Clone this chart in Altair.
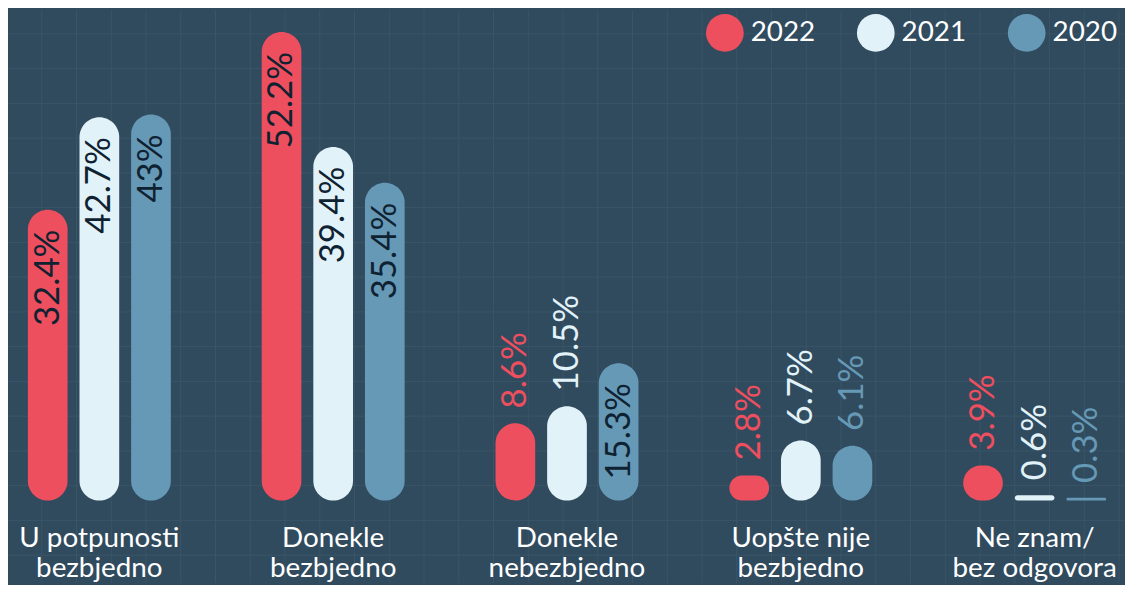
import altair as alt
import pandas as pd

categories = ["U potpunosti\nbezbjedno", "Donekle\nbezbjedno", "Donekle\nnebezbjedno",
              "Uopšte nije\nbezbjedno", "Ne znam/\nbez odgovora"]
years = ["2022", "2021", "2020"]
v2022 = [32.4, 52.2, 8.6, 2.8, 3.9]
v2021 = [42.7, 39.4, 10.5, 6.7, 0.6]
v2020 = [43, 35.4, 15.3, 6.1, 0.3]
colors = ["#ee4f5e", "#e1f2f8", "#6699b6"]

BG = "#304a5e"
GRID = "#3a5568"
DARK = "#0f2232"
FONT = "Lato"

rows = []
for yr, vals in zip(years, [v2022, v2021, v2020]):
    for c, v in zip(categories, vals):
        rows.append({"cat": c, "year": yr, "value": v})
df = pd.DataFrame(rows)
cat_df = pd.DataFrame({"cat": categories})

W, H = 1125, 577
BASE_Y = 494          # pixel row of the zero line
PX_PER_UNIT = 9.04
y_max = BASE_Y / PX_PER_UNIT
y_min = -(H - BASE_Y) / PX_PER_UNIT

x_scale = alt.Scale(domain=categories, range=[-25.75, 1151.75], paddingInner=0, paddingOuter=0)
x_enc = alt.X("cat:N", sort=categories, axis=None, scale=x_scale)
xo_enc = alt.XOffset("year:N", sort=years,
                     scale=alt.Scale(domain=years, paddingInner=0.2308, paddingOuter=0.88))
y_scale = alt.Scale(domain=[y_min, y_max], nice=False, zero=False)
color_scale = alt.Scale(domain=years, range=colors)

grid_v = alt.Chart(alt.sequence(-1, 1130, 35, as_="g")).mark_rule(
    color=GRID, strokeWidth=1).encode(
    x=alt.X("g:Q", scale=None, axis=None), y=alt.value(0), y2=alt.value(H))
grid_h = alt.Chart(alt.sequence(-11, 590, 35, as_="g")).mark_rule(
    color=GRID, strokeWidth=1).encode(
    y=alt.Y("g:Q", scale=None, axis=None), x=alt.value(0), x2=alt.value(W))

base = alt.Chart(df).encode(x=x_enc, xOffset=xo_enc)

# pill-shaped bars: radius is half the bar width, or half the bar height for short bars
bars = base.mark_bar(
    cornerRadius=alt.ExprRef(f"min(20, datum.value * {PX_PER_UNIT / 2})")
).encode(
    y=alt.Y("value:Q", scale=y_scale, axis=None),
    y2=alt.datum(0),
    color=alt.Color("year:N", scale=color_scale, sort=years,
                    legend=alt.Legend(orient="none", legendX=703, legendY=4,
                                      direction="horizontal", title=None,
                                      symbolType="circle", symbolSize=1444,
                                      symbolStrokeWidth=0, symbolOpacity=1,
                                      labelFontSize=28, labelColor="white",
                                      labelFont=FONT, columnPadding=42,
                                      labelOffset=7, padding=0)),
)

lab_in = base.transform_filter("datum.value >= 12").transform_calculate(
    lbl="datum.value + '%'").mark_text(
    angle=270, align="right", baseline="middle", dx=-20,
    fontSize=35, font=FONT, color=DARK).encode(
    y=alt.Y("value:Q", scale=y_scale, axis=None), text="lbl:N")

lab_out = base.transform_filter("datum.value < 12").transform_calculate(
    lbl="datum.value + '%'").mark_text(
    angle=270, align="left", baseline="middle", dx=15,
    fontSize=35, font=FONT).encode(
    y=alt.Y("value:Q", scale=y_scale, axis=None), text="lbl:N",
    color=alt.Color("year:N", scale=color_scale, legend=None))

cat_labels = alt.Chart(cat_df).mark_text(
    align="center", baseline="alphabetic", lineBreak="\n", lineHeight=30,
    fontSize=28, font=FONT, color="white").encode(
    x=x_enc, y=alt.value(541), text="cat:N")

main = alt.layer(bars, lab_in, lab_out, cat_labels)

chart = alt.layer(grid_v, grid_h, main).resolve_scale(
    x="independent", y="independent").properties(
    width=W, height=H, padding=0, autosize=alt.AutoSizeParams(type="none"),
    background=BG).configure_view(stroke=None)

chart.save("out.html", embed_options={"renderer": "svg", "actions": False})
